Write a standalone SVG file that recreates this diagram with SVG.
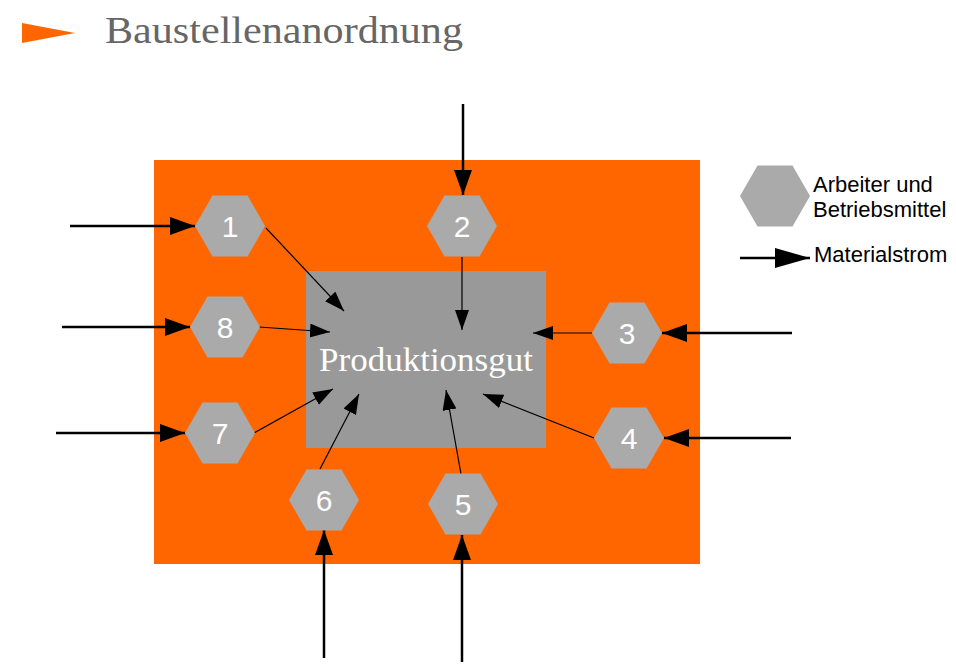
<svg xmlns="http://www.w3.org/2000/svg" width="956" height="669" viewBox="0 0 956 669">
<style>
.hex{fill:#aaaaaa}
.num{font-family:"Liberation Sans",Arial,sans-serif;font-size:30px;fill:#ffffff;text-anchor:middle}
.thick{stroke:#000;stroke-width:2.5;fill:none}
.thin{stroke:#000;stroke-width:1.2;fill:none}
.leg{font-family:"Liberation Sans",Arial,sans-serif;font-size:22px;fill:#000}
</style>
<defs>
<marker id="big" markerUnits="userSpaceOnUse" markerWidth="26" markerHeight="20" refX="25" refY="9" orient="auto"><path d="M0,0 L25,9 L0,18 Z" fill="#000"/></marker>
<marker id="legm" markerUnits="userSpaceOnUse" markerWidth="36" markerHeight="22" refX="35" refY="10" orient="auto"><path d="M0,0 L35,10 L0,20 Z" fill="#000"/></marker>
<marker id="small" markerUnits="userSpaceOnUse" markerWidth="22" markerHeight="16" refX="20" refY="7" orient="auto"><path d="M0,0 L20,7 L0,14 Z" fill="#000"/></marker>
<polygon id="hx" points="-35,0 -17.5,-30.5 17.5,-30.5 35,0 17.5,30.5 -17.5,30.5"/>
</defs>
<rect width="956" height="669" fill="#fff"/>
<g id="title">
<polygon points="22,23 75,33 22,43" fill="#ff6600"/>
<text x="105" y="43" font-family="'Liberation Serif','DejaVu Serif',serif" font-size="38" fill="#666666" textLength="358" lengthAdjust="spacingAndGlyphs">Baustellenanordnung</text>
</g>
<g id="site"><rect x="154" y="160" width="546" height="404" fill="#ff6600"/></g>
<g id="produkt"><rect x="306" y="271" width="240" height="177" fill="#999999"/>
<text x="319" y="371" font-family="'Liberation Serif','DejaVu Serif',serif" font-size="34" fill="#ffffff" textLength="214" lengthAdjust="spacingAndGlyphs">Produktionsgut</text></g>
<g id="connectors">
<line class="thick" x1="70" y1="226" x2="195" y2="226" marker-end="url(#big)"/>
<line class="thick" x1="62" y1="327" x2="190" y2="327" marker-end="url(#big)"/>
<line class="thick" x1="56" y1="433" x2="185" y2="433" marker-end="url(#big)"/>
<line class="thick" x1="463" y1="104" x2="463" y2="195" marker-end="url(#big)"/>
<line class="thick" x1="792" y1="333" x2="662" y2="333" marker-end="url(#big)"/>
<line class="thick" x1="791" y1="438" x2="664" y2="438" marker-end="url(#big)"/>
<line class="thick" x1="324" y1="658" x2="324" y2="530" marker-end="url(#big)"/>
<line class="thick" x1="462" y1="662" x2="462" y2="535" marker-end="url(#big)"/>
<line class="thin" x1="266" y1="228" x2="344" y2="311" marker-end="url(#small)"/>
<line class="thin" x1="259" y1="327" x2="330" y2="332" marker-end="url(#small)"/>
<line class="thin" x1="462" y1="257" x2="462" y2="330" marker-end="url(#small)"/>
<line class="thin" x1="592" y1="333" x2="533" y2="333" marker-end="url(#small)"/>
<line class="thin" x1="594" y1="438" x2="483" y2="394" marker-end="url(#small)"/>
<line class="thin" x1="254" y1="433" x2="333" y2="389" marker-end="url(#small)"/>
<line class="thin" x1="320" y1="469" x2="359" y2="394" marker-end="url(#small)"/>
<line class="thin" x1="461" y1="474" x2="446" y2="390" marker-end="url(#small)"/>
<line class="thick" x1="740" y1="258" x2="810" y2="258" marker-end="url(#legm)"/>
</g>
<g id="n1"><use href="#hx" x="230" y="226" class="hex"/><text class="num" x="230" y="237">1</text></g>
<g id="n2"><use href="#hx" x="462" y="226" class="hex"/><text class="num" x="462" y="237">2</text></g>
<g id="n3"><use href="#hx" x="627" y="333" class="hex"/><text class="num" x="627" y="344">3</text></g>
<g id="n4"><use href="#hx" x="629" y="438" class="hex"/><text class="num" x="629" y="449">4</text></g>
<g id="n5"><use href="#hx" x="463" y="504" class="hex"/><text class="num" x="463" y="515">5</text></g>
<g id="n6"><use href="#hx" x="324" y="500" class="hex"/><text class="num" x="324" y="511">6</text></g>
<g id="n7"><use href="#hx" x="220" y="433" class="hex"/><text class="num" x="220" y="444">7</text></g>
<g id="n8"><use href="#hx" x="225" y="327" class="hex"/><text class="num" x="225" y="338">8</text></g>
<g id="legend">
<use href="#hx" x="775" y="196" class="hex"/>
<text class="leg" x="813" y="192">Arbeiter und</text>
<text class="leg" x="813" y="217">Betriebsmittel</text>
<text class="leg" x="814" y="262">Materialstrom</text>
</g>
</svg>
